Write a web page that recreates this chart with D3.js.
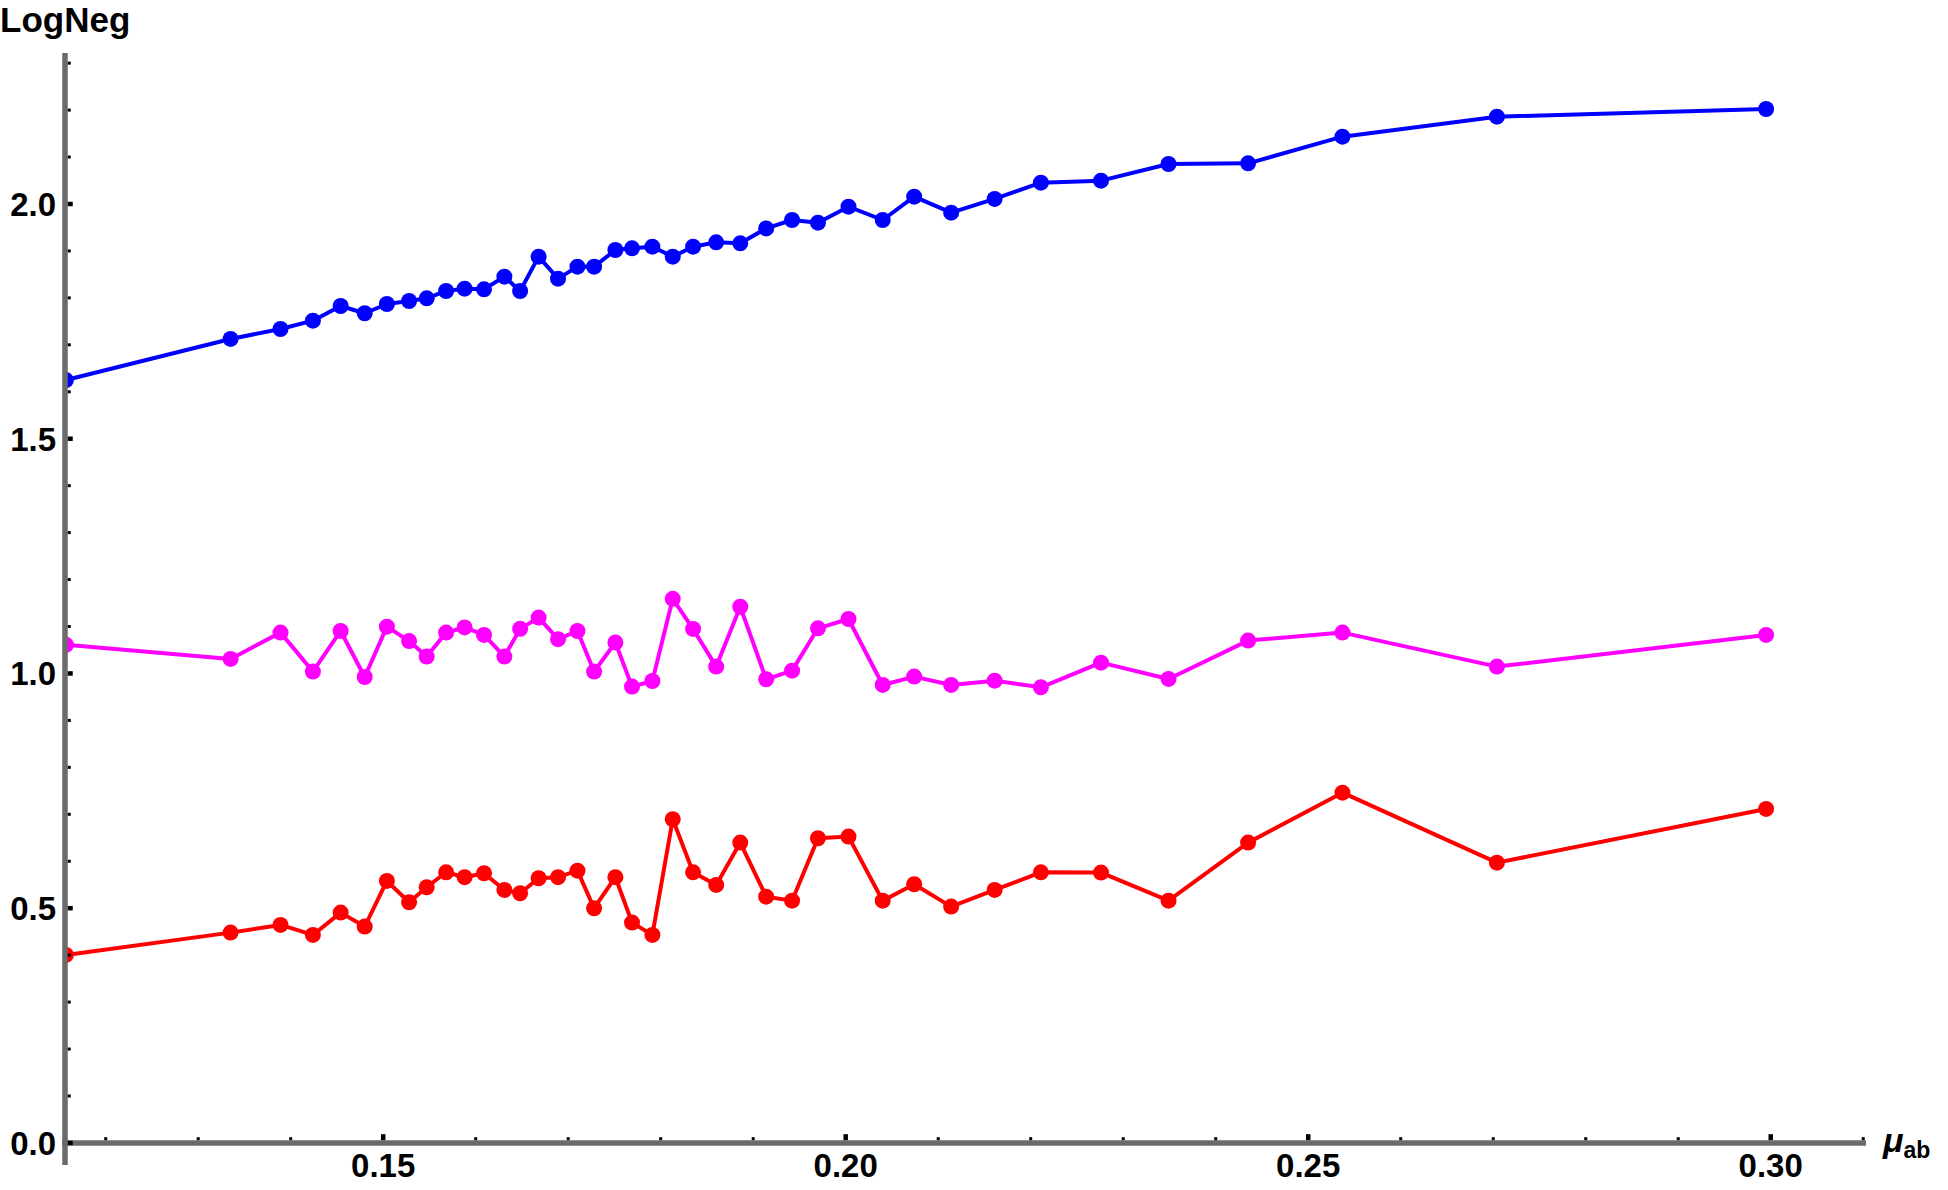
<!DOCTYPE html>
<html>
<head>
<meta charset="utf-8">
<script src="https://cdn.jsdelivr.net/npm/d3@7"></script>
<style>
  html, body { margin: 0; padding: 0; background: #ffffff; }
  svg { display: block; }
  text { font-family: "Liberation Sans", Arial, Helvetica, sans-serif; font-weight: bold; fill: #000; }
</style>
</head>
<body>
<svg id="chart" width="1948" height="1190"></svg>
<script>
// ---- data ----
const mu = [0.1157, 0.1335, 0.1389, 0.1424, 0.1454, 0.1480, 0.1504, 0.1528, 0.1547, 0.1568,
            0.1588, 0.1609, 0.1631, 0.1648, 0.1668, 0.1689, 0.1710, 0.1728, 0.1751, 0.1769,
            0.1791, 0.1813, 0.1835, 0.1860, 0.1886, 0.1914, 0.1942, 0.1970, 0.2003, 0.2040,
            0.2074, 0.2114, 0.2161, 0.2211, 0.2276, 0.2349, 0.2435, 0.2537, 0.2704, 0.2995];

const logNegBlue = [1.625, 1.7125, 1.7337, 1.7515, 1.7827, 1.7672, 1.787, 1.7934, 1.7991, 1.8147,
                    1.8196, 1.8183, 1.8452, 1.8147, 1.8878, 1.841, 1.8665, 1.8665, 1.902, 1.9056,
                    1.909, 1.8878, 1.909, 1.9184, 1.9162, 1.948, 1.9659, 1.9602, 1.9943, 1.9659,
                    2.0156, 1.9815, 2.0107, 2.0454, 2.0497, 2.0852, 2.0866, 2.1434, 2.186, 2.2023];

const logNegMagenta = [1.061, 1.031, 1.087, 1.004, 1.0905, 0.9925, 1.0997, 1.069, 1.036, 1.087,
                       1.098, 1.082, 1.036, 1.095, 1.119, 1.073, 1.0905, 1.004, 1.066, 0.972,
                       0.984, 1.159, 1.0948, 1.0146, 1.1423, 0.9876, 1.006, 1.0962, 1.116, 0.9755,
                       0.9933, 0.9755, 0.9847, 0.9705, 1.023, 0.9883, 1.07, 1.087, 1.0146, 1.082];

const logNegRed = [0.4004, 0.448, 0.4643, 0.443, 0.4906, 0.4608, 0.558, 0.5126, 0.5446, 0.5765,
                   0.566, 0.5744, 0.5389, 0.5318, 0.5638, 0.566, 0.58, 0.4999, 0.566, 0.4693,
                   0.443, 0.6894, 0.5765, 0.5495, 0.6397, 0.5246, 0.516, 0.649, 0.6525, 0.516,
                   0.551, 0.5034, 0.5389, 0.5765, 0.5758, 0.516, 0.6397, 0.7461, 0.597, 0.7114];

const seriesNames = ["blue", "magenta", "red"];
const seriesColors = ["#0000ff", "#ff00ff", "#ff0000"];

const xMajorTicks = [0.15, 0.20, 0.25, 0.30];
const xMajorLabels = ["0.15", "0.20", "0.25", "0.30"];
const xMinorTicks = [0.12, 0.13, 0.14, 0.16, 0.17, 0.18, 0.19, 0.21, 0.22, 0.23, 0.24,
                     0.26, 0.27, 0.28, 0.29, 0.31];
const yMajorTicks = [0.0, 0.5, 1.0, 1.5, 2.0];
const yMajorLabels = ["0.0", "0.5", "1.0", "1.5", "2.0"];
const yMinorTicks = [0.1, 0.2, 0.3, 0.4, 0.6, 0.7, 0.8, 0.9, 1.1, 1.2, 1.3, 1.4,
                     1.6, 1.7, 1.8, 1.9, 2.1, 2.2, 2.3];

const xDomain = [0.1156, 0.3103];
const yDomain = [-0.047, 2.3216];

// ---- drawing ----
const svg = d3.select("#chart");
const x = d3.scaleLinear().domain(xDomain).range([65, 1866]);
const y = d3.scaleLinear().domain(yDomain).range([1165, 53]);
const axisY0 = y(0);

const series = [logNegBlue, logNegMagenta, logNegRed].map((vals, i) => ({
  name: seriesNames[i],
  color: seriesColors[i],
  points: mu.map((m, j) => ({ x: m, y: vals[j] }))
}));

svg.append("defs").append("clipPath").attr("id", "plotClip")
  .append("rect")
  .attr("x", x(xDomain[0])).attr("y", 0)
  .attr("width", x(xDomain[1]) - x(xDomain[0]) + 40).attr("height", 1190);

const plot = svg.append("g").attr("clip-path", "url(#plotClip)");
const line = d3.line().x(d => x(d.x)).y(d => y(d.y));

series.forEach(s => {
  const g = plot.append("g").attr("class", "series-" + s.name);
  g.append("path")
    .datum(s.points)
    .attr("fill", "none")
    .attr("stroke", s.color)
    .attr("stroke-width", 4)
    .attr("stroke-linejoin", "round")
    .attr("d", line);
  g.selectAll("circle")
    .data(s.points)
    .join("circle")
    .attr("cx", d => x(d.x))
    .attr("cy", d => y(d.y))
    .attr("r", 8)
    .attr("fill", s.color);
});

// axes
const axisColor = "#6b6b6b";
svg.append("line")
  .attr("x1", x(xDomain[0]) - 3).attr("x2", x(xDomain[1]))
  .attr("y1", axisY0).attr("y2", axisY0)
  .attr("stroke", axisColor).attr("stroke-width", 5.5);
svg.append("line")
  .attr("x1", x(xDomain[0])).attr("x2", x(xDomain[0]))
  .attr("y1", y(yDomain[0])).attr("y2", y(yDomain[1]))
  .attr("stroke", axisColor).attr("stroke-width", 5.5);

const gx = svg.append("g");
gx.selectAll("rect.xmin").data(xMinorTicks).join("rect")
  .attr("class", "xmin")
  .attr("x", d => x(d) - 1.5).attr("y", axisY0 - 2.75 - 3)
  .attr("width", 3).attr("height", 3).attr("fill", "#000");
gx.selectAll("rect.xmaj").data(xMajorTicks).join("rect")
  .attr("class", "xmaj")
  .attr("x", d => x(d) - 2.25).attr("y", axisY0 - 2.75 - 6)
  .attr("width", 4.5).attr("height", 6).attr("fill", "#000");
gx.selectAll("text").data(xMajorTicks).join("text")
  .attr("x", d => x(d)).attr("y", 1177)
  .attr("text-anchor", "middle")
  .attr("font-size", 33)
  .text((d, i) => xMajorLabels[i]);

const gy = svg.append("g");
const axisX0 = x(xDomain[0]);
gy.selectAll("rect.ymin").data(yMinorTicks).join("rect")
  .attr("class", "ymin")
  .attr("x", axisX0 + 2.75).attr("y", d => y(d) - 1.5)
  .attr("width", 3).attr("height", 3).attr("fill", "#000");
gy.selectAll("rect.ymaj").data(yMajorTicks).join("rect")
  .attr("class", "ymaj")
  .attr("x", axisX0 + 2.75).attr("y", d => y(d) - 2.25)
  .attr("width", 5).attr("height", 4.5).attr("fill", "#000");
gy.selectAll("text").data(yMajorTicks).join("text")
  .attr("x", 56).attr("y", d => y(d))
  .attr("dy", "0.36em")
  .attr("text-anchor", "end")
  .attr("font-size", 33)
  .text((d, i) => yMajorLabels[i]);

// axis labels
svg.append("text")
  .attr("x", 0).attr("y", 32)
  .attr("font-size", 35)
  .text("LogNeg");

const xl = svg.append("text").attr("x", 1883).attr("y", 1152).attr("font-size", 34);
xl.append("tspan").attr("font-style", "italic").text("μ");
xl.append("tspan").attr("font-size", 23).attr("dy", 6).text("ab");
</script>
</body>
</html>
